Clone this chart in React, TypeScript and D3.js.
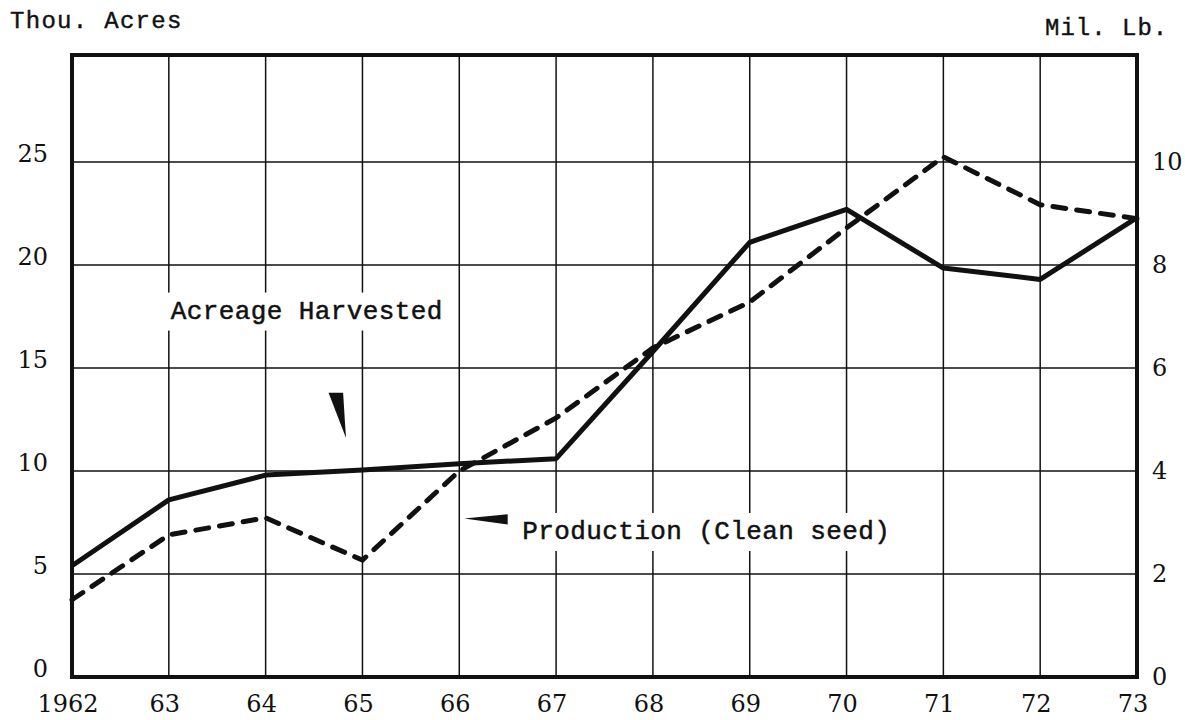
import React, { useEffect, useRef } from 'react';
import * as d3 from 'd3';

// Years on the x axis (1962-1973) and the printed tick labels
const years = [1962, 1963, 1964, 1965, 1966, 1967, 1968, 1969, 1970, 1971, 1972, 1973];
const yearLabels = ['1962', '63', '64', '65', '66', '67', '68', '69', '70', '71', '72', '73'];

// Acreage harvested, thousand acres (left axis)
const acreage = [5.4, 8.6, 9.8, 10.05, 10.35, 10.6, 15.8, 21.1, 22.7, 19.85, 19.3, 22.3];

// Production of clean seed, million lb (right axis)
const production = [1.5, 2.76, 3.09, 2.27, 4.0, 5.03, 6.39, 7.28, 8.72, 10.1, 9.17, 8.9];

const leftTicks = [0, 5, 10, 15, 20, 25];
const rightTicks = [0, 2, 4, 6, 8, 10];

const App = () => {
  const ref = useRef<SVGSVGElement>(null);

  useEffect(() => {
    if (ref.current) drawChart();
  }, []);

  const drawChart = () => {
    const svg = d3.select(ref.current);
    svg.selectAll('*').remove();

    const plotLeft = 72, plotRight = 1137, plotTop = 55, plotBottom = 677;
    const mono = '"Liberation Mono", "Courier New", monospace';
    const serif = '"DejaVu Serif", serif';

    const x = d3.scaleLinear().domain([1962, 1973]).range([plotLeft, plotRight]);
    const y = d3.scaleLinear().domain([0, 30]).range([plotBottom, 59]);
    const yR = d3.scaleLinear().domain([0, 12]).range([plotBottom, 59]);

    // grid
    const grid = svg.append('g').attr('stroke', '#111').attr('stroke-width', 1.5);
    grid.selectAll('.vg')
      .data(years.slice(1, -1))
      .enter()
      .append('line')
      .attr('x1', d => x(d)).attr('x2', d => x(d))
      .attr('y1', plotTop).attr('y2', plotBottom);
    grid.selectAll('.hg')
      .data(leftTicks.slice(1))
      .enter()
      .append('line')
      .attr('x1', plotLeft).attr('x2', plotRight)
      .attr('y1', d => y(d)).attr('y2', d => y(d));

    // in-plot labels with white background (gridlines broken behind them)
    const addLabel = (txt: string, lx: number, ly: number) => {
      const g = svg.append('g');
      const bg = g.append('rect').attr('fill', '#fff');
      const t = g.append('text')
        .attr('x', lx).attr('y', ly)
        .attr('font-family', mono).attr('font-size', 26)
        .attr('letter-spacing', 0.4)
        .attr('fill', '#111')
        .attr('stroke', '#111').attr('stroke-width', 0.5)
        .text(txt);
      const b = (t.node() as SVGTextElement).getBBox();
      bg.attr('x', b.x - 6).attr('y', b.y - 4).attr('width', b.width + 12).attr('height', b.height + 8);
    };
    addLabel('Acreage Harvested', x(1963.0) + 2, y(17.4));
    addLabel('Production (Clean seed)', x(1966.65), y(6.7));

    // pointer wedges
    svg.append('path')
      .attr('d', `M${x(1964.65)},${y(13.8)} L${x(1964.8)},${y(13.8)} L${x(1964.83)},${y(11.6)} Z`)
      .attr('fill', '#111');
    svg.append('path')
      .attr('d', `M${x(1966.05)},${yR(3.08)} L${x(1966.5)},${yR(3.16)} L${x(1966.5)},${yR(2.96)} Z`)
      .attr('fill', '#111');

    // lines
    const lineA = d3.line<number>()
      .x((_, i) => x(years[i]))
      .y(d => y(d));
    const lineP = d3.line<number>()
      .x((_, i) => x(years[i]))
      .y(d => yR(d));

    svg.append('path')
      .datum(production)
      .attr('fill', 'none')
      .attr('stroke', '#111')
      .attr('stroke-width', 5)
      .attr('stroke-dasharray', '13 11')
      .attr('stroke-linecap', 'round')
      .attr('d', lineP);

    svg.append('path')
      .datum(acreage)
      .attr('fill', 'none')
      .attr('stroke', '#111')
      .attr('stroke-width', 5)
      .attr('stroke-linejoin', 'round')
      .attr('d', lineA);

    // frame
    svg.append('rect')
      .attr('x', plotLeft).attr('y', plotTop)
      .attr('width', plotRight - plotLeft).attr('height', plotBottom - plotTop)
      .attr('fill', 'none')
      .attr('stroke', '#111')
      .attr('stroke-width', 4);

    // left axis labels
    svg.append('g')
      .selectAll('text')
      .data(leftTicks)
      .enter()
      .append('text')
      .attr('x', 48)
      .attr('y', d => y(d))
      .attr('text-anchor', 'end')
      .attr('font-family', serif).attr('font-size', 24)
      .attr('fill', '#111')
      .text(d => d);

    // right axis labels
    svg.append('g')
      .selectAll('text')
      .data(rightTicks)
      .enter()
      .append('text')
      .attr('x', 1152)
      .attr('y', d => yR(d) + 8)
      .attr('font-family', serif).attr('font-size', 24)
      .attr('fill', '#111')
      .text(d => d);

    // bottom axis labels
    svg.append('g')
      .selectAll('text')
      .data(years)
      .enter()
      .append('text')
      .attr('x', d => x(d) - 4)
      .attr('y', 712)
      .attr('text-anchor', 'middle')
      .attr('font-family', serif).attr('font-size', 24)
      .attr('fill', '#111')
      .text((_, i) => yearLabels[i]);

    // axis unit titles
    svg.append('text')
      .attr('x', 10).attr('y', 28)
      .attr('font-family', mono).attr('font-size', 24)
      .attr('letter-spacing', 1.3)
      .attr('fill', '#111')
      .attr('stroke', '#111').attr('stroke-width', 0.4)
      .text('Thou. Acres');
    svg.append('text')
      .attr('x', 1045).attr('y', 35)
      .attr('font-family', mono).attr('font-size', 24)
      .attr('letter-spacing', 1)
      .attr('fill', '#111')
      .attr('stroke', '#111').attr('stroke-width', 0.4)
      .text('Mil. Lb.');
  };

  return (
    <svg
      ref={ref}
      width={1185}
      height={720}
      style={{ position: 'absolute', left: 0, top: 0, background: '#fff' }}
    />
  );
};

export default App;
